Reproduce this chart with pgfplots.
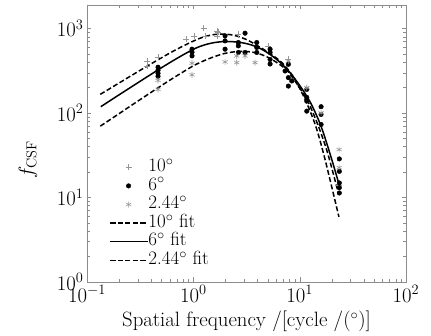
\documentclass[border=0pt]{standalone}
\usepackage{pgfplots}
\pgfplotsset{compat=1.18}
\definecolor{mkgray}{RGB}{150,150,150}
\definecolor{framegray}{RGB}{140,140,140}
\begin{document}
\begin{tikzpicture}
\useasboundingbox (-87pt,-53.3pt) rectangle (344pt,281.7pt);
\begin{axis}[
  at={(0pt,0pt)}, anchor=south west,
  scale only axis, width=319pt, height=276.7pt,
  xmode=log, ymode=log,
  xmin=0.1, xmax=100, ymin=1, ymax=1900,
  axis line style={framegray},
  tick style={framegray},
  tick label style={font=\fontsize{20.74}{24}\selectfont},
  label style={font=\fontsize{20.74}{24}\selectfont},
  xlabel={Spatial frequency /[cycle /($^{\circ}$)]},
  ylabel={$f_{\mathrm{CSF}}$},
  xlabel style={at={(axis description cs:0.5,0)}, anchor=base, yshift=-45pt},
  ylabel style={at={(axis description cs:-0.185,0.44)}, anchor=center, rotate=0},
  legend cell align=left,
  legend image code/.code={\draw[mark repeat=2,mark phase=2,#1] plot coordinates {(0pt,0pt) (18.5pt,0pt) (37pt,0pt)};},
  legend style={at={(0.06,0.455)}, anchor=north west, draw=none, fill=none,
    font=\fontsize{19}{22}\selectfont, row sep=0pt,
    nodes={inner sep=0.5pt, text height=13pt, text depth=4.6pt}},
]
% 10 deg data
\addplot[only marks, mark=+, mark size=3pt, color=mkgray, line width=0.6pt] coordinates {
(0.367,413) (0.367,360) (0.466,461) (0.854,748) (1.015,819) (1.25,1011) (1.29,819)
(1.67,939) (1.72,899) (1.67,819) (2.63,858) (5.04,623) (7.83,433) (23.5,13.7)
};
\addlegendentry{10$^{\circ}$}
% 6 deg data
\addplot[only marks, mark=*, mark size=2.3pt, color=black] coordinates {
(0.4655,348) (0.4655,320) (0.4655,295) (0.4655,272)
(0.972,569) (0.972,524) (0.972,474)
(1.988,819) (1.988,714) (1.988,569)
(2.65,683) (2.65,623) (2.65,520)
(3.064,880) (3.064,520)
(3.95,683) (3.95,596) (3.95,520)
(5.27,569) (5.27,520) (5.27,430) (5.27,380)
(7.29,314) (7.83,377) (7.83,262) (7.83,208) (8.43,239)
(11.66,190) (11.66,153) (11.66,138) (11.66,105)
(15.9,118.5) (15.9,96) (15.9,73)
(23.6,28.5) (23.6,20.3) (23.6,14.8) (23.6,13.0) (23.6,11.25)
};
\addlegendentry{6$^{\circ}$}
% 2.44 deg data
\addplot[only marks, mark=asterisk, mark size=3pt, color=mkgray, line width=0.6pt] coordinates {
(0.4655,243) (0.4655,190) (0.972,388) (0.972,283) (1.988,402)
(2.56,474) (2.56,395) (3.064,474) (3.805,395) (7.83,413)
(11.66,199) (15.9,100) (23.5,36.8) (23.5,22.5)
};
\addlegendentry{2.44$^{\circ}$}
% 10 deg fit
\addplot[black, line width=1.5pt, dash pattern=on 5pt off 2.5pt, smooth, tension=0.5] coordinates {
(0.1334,166) (0.1995,225.4) (0.3162,319.9) (0.5012,449.8) (0.7079,572.8) (1,709.6)
(1.259,796.2) (1.585,849.2) (1.995,859.0) (2.512,820.4) (3.162,739.6) (3.802,651.6)
(5.082,520.0) (6.792,395.4) (8.670,269.8) (11.246,144.5) (14.158,69.7) (17.338,28.0) (23.388,5.87)
};
\addlegendentry{10$^{\circ}$ fit}
% 6 deg fit
\addplot[black, line width=1.5pt, smooth, tension=0.5] coordinates {
(0.1349,118.6) (0.1995,163.3) (0.3162,237.1) (0.5012,342.8) (0.7079,445.7) (1,567.5)
(1.259,636.8) (1.585,682.3) (1.995,701.5) (2.512,693.4) (3.162,662.2) (3.981,603.9)
(5.012,514.0) (6.310,413.0) (7.943,309.7) (10,211.8) (12.589,133.7) (15.849,70.1)
(19.953,28.6) (23.988,12.9)
};
\addlegendentry{6$^{\circ}$ fit}
% 2.44 deg fit
\addplot[black, line width=1.5pt, dash pattern=on 5pt off 2.5pt, smooth, tension=0.5] coordinates {
(0.1334,69.7) (0.1995,97.7) (0.3162,143.9) (0.5012,210.9) (0.7079,278.0) (1,361.4)
(1.259,415.0) (1.585,465.6) (1.995,508.2) (2.512,532.1) (3.162,534.6) (3.981,510.5)
(5.082,452.9) (6.792,359.7) (8.128,288.4) (11.668,144.5) (14.997,69.7) (18.365,33.1) (23.121,11.2)
};
\addlegendentry{2.44$^{\circ}$ fit}
\end{axis}
\end{tikzpicture}
\end{document}
